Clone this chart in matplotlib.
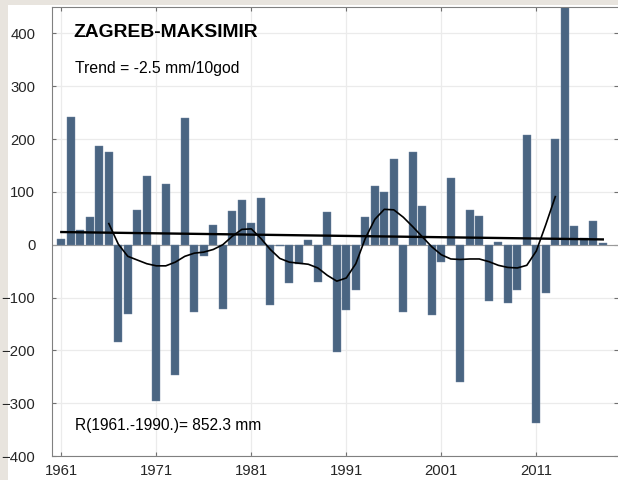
import numpy as np
import matplotlib.pyplot as plt
from matplotlib.patches import Rectangle

plt.rcParams['font.family'] = ['Liberation Sans', 'DejaVu Sans']

# odstupanje godisnje kolicine oborine od prosjeka 1961.-1990. (mm)
years = np.arange(1961, 2019)
anomaly = [10, 241, 28, 52, 186, 175, -185, -132, 66, 131,
           -295, 115, -247, 240, -128, -22, 38, -122, 63, 85,
           41, 88, -115, -3, -73, -36, 8, -70, 62, -204,
           -124, -86, 52, 112, 99, 162, -127, 175, 73, -133,
           -32, 127, -259, 66, 54, -107, 6, -110, -85, 208,
           -337, -91, 201, 480, 35, 12, 45, 3]

# zagladena krivulja (filtar), ocitano sa slike
smooth_years = np.arange(1966, 2014)
smooth = [40, 1, -22, -29, -36, -40, -40, -33, -22, -16,
          -14, -9, 0, 16, 29, 30, 12, -9, -26, -33,
          -35, -37, -44, -58, -69, -63, -36, 12, 48, 67,
          66, 52, 34, 15, -4, -19, -27, -28, -27, -27,
          -32, -39, -43, -44, -39, -12, 38, 91]

# linearni trend
trend_years = [1961, 2018]
trend_vals = [24, 10]

fig = plt.figure(figsize=(6.18, 4.8), dpi=100)
fig.patch.set_facecolor('#e8e4de')
fig.patches.append(Rectangle((8 / 618, 0), 1, 1 - 5 / 480, transform=fig.transFigure,
                             facecolor='white', edgecolor='none', zorder=-10))

ax = fig.add_axes([52 / 618, 24 / 480, 566 / 618, 449 / 480])
ax.set_facecolor('white')

ax.bar(years, anomaly, width=0.86, color='#4a6582', edgecolor='#6f86a0', linewidth=0.3, zorder=2)
ax.axhline(0, color='#9a9a9a', linewidth=0.8, zorder=1)
ax.plot(trend_years, trend_vals, color='black', linewidth=1.7, zorder=3)
ax.plot(smooth_years, smooth, color='black', linewidth=1.2, zorder=3)

ax.set_xlim(1960.02, 2019.6)
ax.set_ylim(-400, 450)
ax.set_xticks(np.arange(1961, 2012, 10))
ax.set_yticks(np.arange(-400, 401, 100))
ax.grid(True, color='#ebebeb', linewidth=0.9, zorder=0)
ax.set_axisbelow(True)

ax.tick_params(axis='both', direction='in', length=3, color='#707070',
               labelsize=10.7, labelcolor='#262626', top=True, right=True)
ax.tick_params(axis='y', pad=12)
ax.tick_params(axis='x', pad=6)
for side in ['left', 'bottom', 'top']:
    ax.spines[side].set_color('#808080')
ax.spines['right'].set_visible(False)

ax.text(0.037, 0.944, 'ZAGREB-MAKSIMIR', transform=ax.transAxes, fontsize=13.9,
        fontweight='bold', va='center', ha='left')
ax.text(0.041, 0.864, 'Trend = -2.5 mm/10god', transform=ax.transAxes, fontsize=11.3,
        va='center', ha='left')
ax.text(0.041, 0.069, 'R(1961.-1990.)= 852.3 mm', transform=ax.transAxes, fontsize=11.2,
        va='center', ha='left')

fig.savefig('out.png', dpi=100, facecolor=fig.get_facecolor())
